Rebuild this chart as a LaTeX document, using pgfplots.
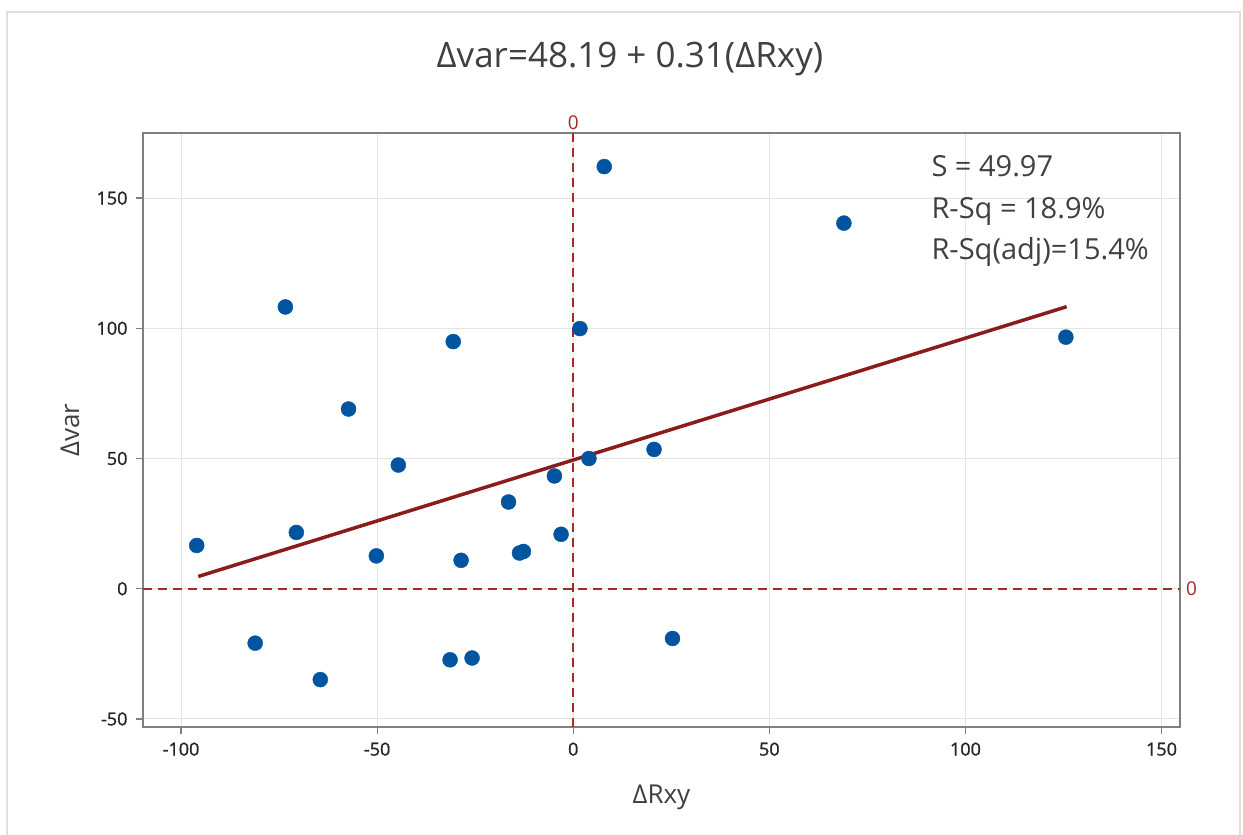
\documentclass[border=0pt]{standalone}
\usepackage{fontspec}
\setmainfont{Open Sans}
\newfontfamily\tickfont[FakeBold=1.2]{Open Sans}
\usepackage{pgfplots}
\pgfplotsset{compat=1.18}
\definecolor{ptblue}{RGB}{0,84,160}
\definecolor{refred}{RGB}{170,40,40}
\definecolor{fitred}{RGB}{140,28,28}
\definecolor{gridc}{RGB}{228,228,228}
\definecolor{framec}{RGB}{128,128,128}
\definecolor{txt}{RGB}{64,64,64}
\begin{document}
\begin{tikzpicture}
\useasboundingbox (0bp,0bp) rectangle (1243bp,835bp);
\fill[white] (0bp,0bp) rectangle (1243bp,835bp);
\draw[gray!25, line width=2bp] (7bp,0bp) -- (7bp,823bp) -- (1240bp,823bp) -- (1240bp,0bp);
\node[text=txt, font=\fontsize{35bp}{40bp}\selectfont, anchor=base] at (630bp,767bp) {Δvar=48.19 + 0.31(ΔRxy)};
\begin{axis}[
  at={(143bp,108bp)}, anchor=south west,
  scale only axis, width=1037bp, height=594bp,
  xmin=-109.7, xmax=154.7, ymin=-53.1, ymax=175,
  xtick={-100,-50,0,50,100,150},
  ytick={-50,0,50,100,150},
  grid=major,
  major grid style={gridc, line width=1bp},
  axis line style={framec, line width=1.5bp},
  tick style={framec, line width=1.2bp},
  tick align=outside, major tick length=7bp,
  xtick pos=lower, ytick pos=left,
  /pgf/number format/assume math mode=true,
  ticklabel style={text=black!85, font=\tickfont\fontsize{18bp}{22bp}\selectfont},
  xticklabel style={yshift=-5bp},
  yticklabel style={xshift=-5bp},
  xlabel={ΔRxy}, ylabel={Δvar},
  label style={text=txt, font=\fontsize{26bp}{30bp}\selectfont},
  xlabel style={at={(axis description cs:0.5,0)}, anchor=center, yshift=-70bp},
  ylabel style={at={(axis description cs:0,0.5)}, anchor=center, yshift=73bp},
  clip=false,
]
\addplot[refred, line width=2bp, dash pattern=on 9bp off 6bp] coordinates {(0,-53.1) (0,175)};
\addplot[refred, line width=2bp, dash pattern=on 9bp off 6bp] coordinates {(-109.7,0) (154.7,0)};
\node[refred, font=\fontsize{19bp}{22bp}\selectfont, anchor=south, inner sep=3bp] at (axis cs:0,175) {0};
\node[refred, font=\fontsize{19bp}{22bp}\selectfont, anchor=west, inner sep=6bp] at (axis cs:154.7,0) {0};
\addplot[fitred, line width=3.5bp] coordinates {(-95.6,4.7) (125.8,108.3)};
\addplot[only marks, mark=*, mark size=7.5bp, ptblue, mark options={fill=ptblue, draw=ptblue}] coordinates {
(-96.0,16.6) (-81.1,-20.9) (-73.4,108.2) (-70.6,21.6) (-64.5,-34.9) (-57.3,69.0)
(-50.2,12.6) (-44.6,47.5) (-31.4,-27.3) (-30.6,94.9) (-28.6,10.9) (-25.8,-26.6)
(-16.5,33.3) (-13.7,13.7) (-12.7,14.3) (-4.8,43.3) (-3.1,20.9) (1.7,99.9)
(4.0,50.0) (7.9,162.1) (20.6,53.5) (25.3,-19.1) (69.0,140.4) (125.6,96.6)};
\node[anchor=base west, text=txt, font=\fontsize{29bp}{34bp}\selectfont, inner sep=0pt] at (axis cs:91.3,158.4) {S = 49.97};
\node[anchor=base west, text=txt, font=\fontsize{29bp}{34bp}\selectfont, inner sep=0pt] at (axis cs:91.3,142.3) {R-Sq = 18.9\%};
\node[anchor=base west, text=txt, font=\fontsize{29bp}{34bp}\selectfont, inner sep=0pt] at (axis cs:91.3,126.6) {R-Sq(adj)=15.4\%};
\end{axis}
\end{tikzpicture}
\end{document}
